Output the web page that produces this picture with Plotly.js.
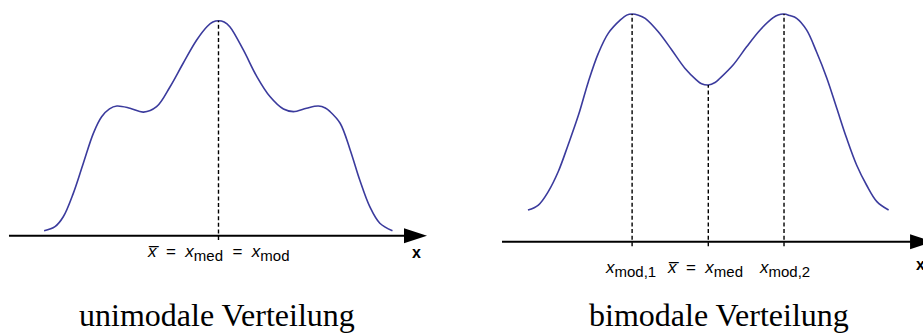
<!DOCTYPE html>
<html>
<head>
<meta charset="utf-8">
<script src="https://cdn.plot.ly/plotly-3.0.1.min.js"></script>
<style>
  html, body { margin: 0; padding: 0; background: #ffffff; }
  #chart { width: 923px; height: 334px; }
</style>
</head>
<body>
<div id="chart"></div>
<script>
// Unimodal density (relative height, highest point = 1)
const uniX = [-4.00, -3.75, -3.56, -3.33, -3.10, -2.87, -2.68, -2.50, -2.33, -2.03, -1.72, -1.42, -1.11, -0.81, -0.50, -0.26, -0.13, 0,
              0.13, 0.26, 0.57, 0.88, 1.18, 1.49, 1.72, 2.02, 2.29, 2.45, 2.56, 2.79, 3.02, 3.24, 3.47, 3.70, 3.99];
const uniY = [0.023, 0.042, 0.088, 0.197, 0.337, 0.476, 0.553, 0.590, 0.603, 0.593, 0.575, 0.600, 0.693, 0.802, 0.910, 0.973, 0.994, 1.000,
              0.994, 0.972, 0.864, 0.740, 0.647, 0.589, 0.577, 0.593, 0.603, 0.594, 0.577, 0.523, 0.399, 0.259, 0.135, 0.058, 0.023];

// Bimodal density (relative height, highest point = 1)
const biX = [-4.00, -3.77, -3.55, -3.33, -3.11, -2.88, -2.66, -2.44, -2.22, -1.95, -1.81, -1.69, -1.55, -1.40, -1.11, -0.81, -0.52, -0.26, -0.15, 0,
             0.15, 0.26, 0.55, 0.85, 1.15, 1.44, 1.55, 1.68, 1.81, 1.96, 2.18, 2.40, 2.63, 2.85, 3.07, 3.29, 3.51, 3.74, 4.00];
const biY = [0.139, 0.161, 0.220, 0.307, 0.425, 0.556, 0.703, 0.827, 0.915, 0.974, 0.995, 1.000, 0.995, 0.981, 0.922, 0.842, 0.762, 0.710, 0.694, 0.688,
             0.699, 0.718, 0.776, 0.856, 0.930, 0.984, 0.996, 1.000, 0.993, 0.981, 0.930, 0.834, 0.718, 0.586, 0.454, 0.337, 0.249, 0.176, 0.139];

// Marked positions: mean = median = mode (left); mode 1, mean = median, mode 2 (right)
const uniMarks = [0];
const biMarks = [-1.69, 0, 1.68];

const uniLabels = ['<i>x\u0305</i>  =  <i>x</i><sub><span style="font-size:15px">med</span></sub>  =  <i>x</i><sub><span style="font-size:15px">mod</span></sub>'];
const biLabels = [
  '<i>x</i><sub><span style="font-size:15px">mod,1</span></sub>',
  '<i>x\u0305</i>  =  <i>x</i><sub><span style="font-size:15px">med</span></sub>',
  '<i>x</i><sub><span style="font-size:15px">mod,2</span></sub>'
];
const panelTitles = ['unimodale Verteilung', 'bimodale Verteilung'];
const axisName = 'x';

const curveColor = '#3b3b9d';
const sans = 'Liberation Sans, Arial, sans-serif';
const serif = 'Liberation Serif, Times New Roman, serif';

const heightAt = (xs, ys, m) => ys[xs.indexOf(m)];

const traces = [];
function addPanel(xs, ys, marks, xa, ya) {
  traces.push({
    x: xs, y: ys, xaxis: xa, yaxis: ya, type: 'scatter', mode: 'lines',
    line: { color: curveColor, width: 1.6, shape: 'spline', smoothing: 1 },
    hoverinfo: 'skip', showlegend: false
  });
  marks.forEach(m => {
    traces.push({
      x: [m, m], y: [-0.02, heightAt(xs, ys, m)], xaxis: xa, yaxis: ya,
      type: 'scatter', mode: 'lines',
      line: { color: '#000000', width: 1.4, dash: '4px,2.6px' },
      hoverinfo: 'skip', showlegend: false
    });
  });
}
addPanel(uniX, uniY, uniMarks, 'x', 'y');
addPanel(biX, biY, biMarks, 'x2', 'y2');

const hidden = { visible: false, fixedrange: true };

// Horizontal axes with arrow heads
const shapes = [
  { type: 'line', xref: 'x', yref: 'y', x0: -4.805, x1: 4.5, y0: 0, y1: 0, line: { color: '#000', width: 2 } },
  { type: 'path', xref: 'x', yref: 'y', xsizemode: 'pixel', ysizemode: 'pixel', xanchor: 4.782, yanchor: 0,
    path: 'M0,0 L-23,7.5 L-23,-7.5 Z', fillcolor: '#000', line: { width: 0 } },
  { type: 'line', xref: 'x2', yref: 'y2', x0: -4.576, x1: 4.9, y0: 0, y1: 0, line: { color: '#000', width: 2 } },
  { type: 'path', xref: 'x2', yref: 'y2', xsizemode: 'pixel', ysizemode: 'pixel', xanchor: 4.986, yanchor: 0,
    path: 'M0,0 L-23,7.5 L-23,-7.5 Z', fillcolor: '#000', line: { width: 0 } }
];

const labelFont = { family: sans, size: 17, color: '#000' };
const annotations = [];
uniMarks.forEach((m, i) => annotations.push({
  xref: 'x', yref: 'y', x: m, y: -0.08, text: uniLabels[i], showarrow: false,
  xanchor: 'center', yanchor: 'middle', font: labelFont
}));
const biShift = [-2, -3, 0];
biMarks.forEach((m, i) => annotations.push({
  xref: 'x2', yref: 'y2', x: m, y: -0.118, text: biLabels[i], showarrow: false,
  xanchor: 'center', yanchor: 'middle', xshift: biShift[i], font: labelFont
}));
annotations.push({
  xref: 'x', yref: 'y', x: 4.53, y: -0.08, text: '<b>' + axisName + '</b>', showarrow: false,
  xanchor: 'center', yanchor: 'middle', font: { family: sans, size: 16, color: '#000' }
});
annotations.push({
  xref: 'x2', yref: 'y2', x: 4.718, y: -0.1, text: '<b>' + axisName + '</b>', showarrow: false,
  xanchor: 'center', yanchor: 'middle', font: { family: sans, size: 16, color: '#000' }
});
const titleX = [217 / 923, 719 / 923];
panelTitles.forEach((t, i) => annotations.push({
  xref: 'paper', yref: 'paper', x: titleX[i], y: 0.056, text: t, showarrow: false,
  xanchor: 'center', yanchor: 'middle', font: { family: serif, size: 32, color: '#000' }
}));

const layout = {
  width: 923, height: 334,
  margin: { l: 0, r: 0, t: 0, b: 0 },
  paper_bgcolor: '#ffffff', plot_bgcolor: '#ffffff',
  showlegend: false,
  xaxis: Object.assign({ domain: [0, 460 / 923], range: [-5.011, 5.539], anchor: 'y' }, hidden),
  yaxis: Object.assign({ domain: [0, 1], range: [-0.4572, 1.0963], anchor: 'x' }, hidden),
  xaxis2: Object.assign({ domain: [460 / 923, 1], range: [-5.508, 4.763], anchor: 'y2' }, hidden),
  yaxis2: Object.assign({ domain: [0, 1], range: [-0.4054, 1.0615], anchor: 'x2' }, hidden),
  shapes: shapes,
  annotations: annotations
};

Plotly.newPlot('chart', traces, layout, { staticPlot: true, displayModeBar: false });
</script>
</body>
</html>
